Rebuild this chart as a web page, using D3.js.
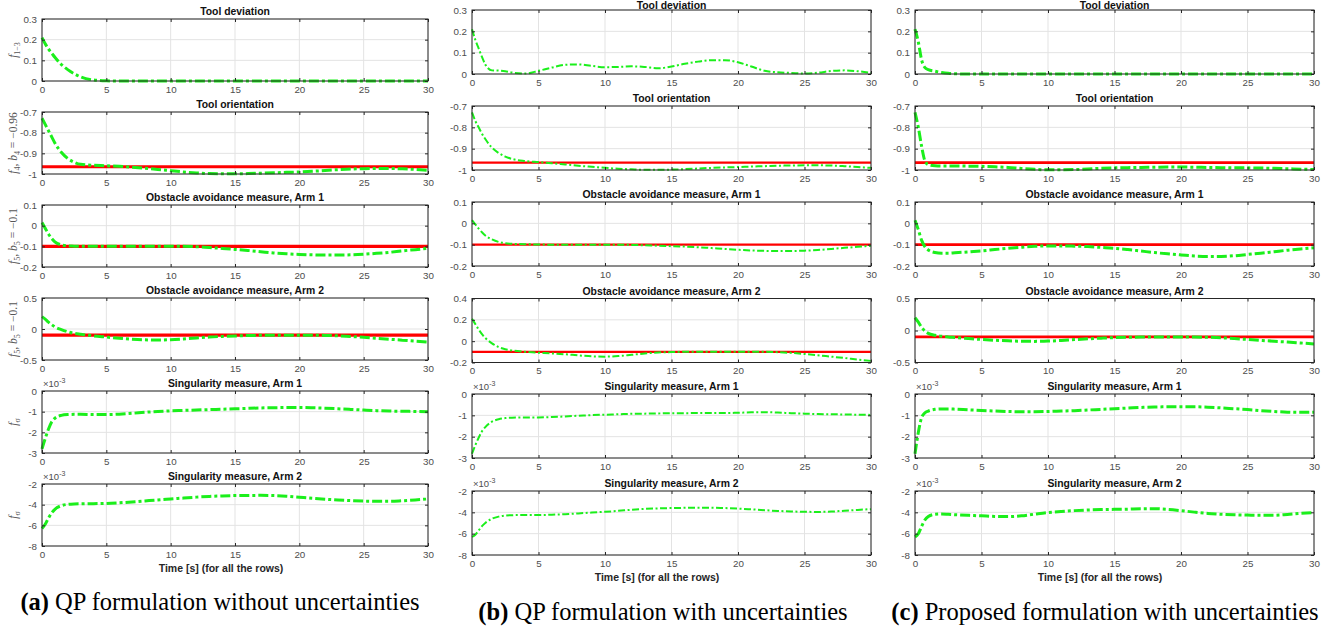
<!DOCTYPE html>
<html>
<head>
<meta charset="utf-8">
<script src="https://cdn.jsdelivr.net/npm/d3@7"></script>
<style>
  body { margin: 0; background: #fff; }
  svg { display: block; }
</style>
</head>
<body>
<div id="chart"></div>
<script>
// sample times [s], shared by every series
const time = [0, 0.25, 0.5, 0.75, 1, 1.5, 2, 2.5, 3, 4, 5, 6, 7, 8, 9, 10, 11, 12, 13, 14, 15,
  16, 17, 18, 19, 20, 21, 22, 23, 24, 25, 26, 27, 28, 29, 30];

const rowTitles = ["Tool deviation", "Tool orientation", "Obstacle avoidance measure, Arm 1",
  "Obstacle avoidance measure, Arm 2", "Singularity measure, Arm 1", "Singularity measure, Arm 2"];

const xTicks = [0, 5, 10, 15, 20, 25, 30];

// y ticks per panel and row (the first and last give the domain)
const yTicksA = [[0, 0.1, 0.2, 0.3], [-1, -0.9, -0.8, -0.7], [-0.2, -0.1, 0, 0.1], [-0.5, 0, 0.5], [-3, -2, -1, 0], [-8, -6, -4, -2]];
const yTicksB = [[0, 0.1, 0.2, 0.3], [-1, -0.9, -0.8, -0.7], [-0.2, -0.1, 0, 0.1], [-0.2, 0, 0.2, 0.4], [-3, -2, -1, 0], [-8, -6, -4, -2]];
const yTicksC = yTicksA;

// bounds (red lines) for rows 2-4
const orientationBound = -0.965;
const obstacleBound = -0.1;

// (a) QP formulation without uncertainties
const devA = [0.21, 0.18, 0.155, 0.135, 0.115, 0.08, 0.055, 0.035, 0.02, 0.005, 0.001, 0, 0, 0, 0, 0, 0, 0, 0, 0, 0,
  0, 0, 0, 0, 0, 0, 0, 0, 0, 0, 0, 0, 0, 0, 0];
const oriA = [-0.73, -0.76, -0.79, -0.82, -0.85, -0.895, -0.925, -0.943, -0.953, -0.958, -0.96, -0.963, -0.967, -0.972, -0.978, -0.984, -0.99, -0.995, -0.998, -0.999, -0.999,
  -0.998, -0.996, -0.994, -0.992, -0.99, -0.987, -0.983, -0.979, -0.976, -0.974, -0.973, -0.973, -0.975, -0.978, -0.982];
const obs1A = [0.015, -0.012, -0.04, -0.062, -0.078, -0.093, -0.098, -0.099, -0.1, -0.1, -0.1, -0.1, -0.1, -0.1, -0.1, -0.1, -0.1, -0.102, -0.106, -0.11, -0.115,
  -0.12, -0.126, -0.132, -0.136, -0.139, -0.141, -0.142, -0.142, -0.141, -0.138, -0.134, -0.129, -0.122, -0.116, -0.11];
const obs2A = [0.2, 0.16, 0.11, 0.07, 0.035, -0.01, -0.045, -0.07, -0.085, -0.11, -0.13, -0.15, -0.165, -0.175, -0.178, -0.172, -0.16, -0.145, -0.13, -0.12, -0.112,
  -0.106, -0.102, -0.1, -0.1, -0.1, -0.1, -0.103, -0.11, -0.12, -0.135, -0.15, -0.165, -0.18, -0.195, -0.21];
const sing1A = [-2.8, -2.3, -1.85, -1.5, -1.32, -1.18, -1.14, -1.13, -1.13, -1.14, -1.14, -1.12, -1.08, -1.03, -0.99, -0.96, -0.94, -0.92, -0.9, -0.88, -0.86,
  -0.84, -0.82, -0.81, -0.8, -0.8, -0.81, -0.83, -0.86, -0.89, -0.92, -0.95, -0.97, -0.98, -0.99, -1.0];
const sing2A = [-6.3, -5.9, -5.3, -4.8, -4.45, -4.1, -3.97, -3.93, -3.92, -3.9, -3.88, -3.82, -3.74, -3.64, -3.54, -3.45, -3.36, -3.27, -3.2, -3.15, -3.12,
  -3.11, -3.1, -3.12, -3.18, -3.28, -3.38, -3.47, -3.55, -3.61, -3.65, -3.68, -3.68, -3.62, -3.54, -3.45];

// (b) QP formulation with uncertainties
const devB = [0.21, 0.16, 0.12, 0.08, 0.045, 0.017, 0.016, 0.013, 0.007, 0.002, 0.015, 0.03, 0.043, 0.045, 0.038, 0.032, 0.033, 0.036, 0.033, 0.027, 0.035,
  0.048, 0.058, 0.065, 0.065, 0.055, 0.035, 0.015, 0.008, 0.005, 0.002, 0.006, 0.014, 0.017, 0.013, 0.005];
const oriB = [-0.73, -0.77, -0.8, -0.83, -0.855, -0.895, -0.92, -0.937, -0.948, -0.958, -0.963, -0.968, -0.974, -0.98, -0.985, -0.99, -0.994, -0.997, -0.999, -0.999, -0.998,
  -0.996, -0.993, -0.99, -0.988, -0.986, -0.984, -0.982, -0.98, -0.979, -0.978, -0.978, -0.979, -0.982, -0.986, -0.99];
const obs1B = [0.015, -0.005, -0.025, -0.042, -0.057, -0.075, -0.087, -0.093, -0.096, -0.098, -0.099, -0.1, -0.1, -0.1, -0.1, -0.1, -0.1, -0.101, -0.103, -0.105, -0.107,
  -0.109, -0.112, -0.116, -0.12, -0.124, -0.127, -0.129, -0.13, -0.13, -0.128, -0.125, -0.12, -0.115, -0.11, -0.105];
const obs2B = [0.21, 0.16, 0.11, 0.065, 0.03, -0.02, -0.055, -0.075, -0.087, -0.1, -0.108, -0.115, -0.123, -0.133, -0.142, -0.145, -0.14, -0.128, -0.115, -0.106, -0.102,
  -0.1, -0.1, -0.1, -0.1, -0.1, -0.1, -0.1, -0.103, -0.11, -0.12, -0.132, -0.145, -0.158, -0.172, -0.185];
const sing1B = [-2.8, -2.4, -2.05, -1.75, -1.55, -1.3, -1.18, -1.13, -1.11, -1.1, -1.1, -1.08, -1.05, -1.02, -0.99, -0.97, -0.95, -0.93, -0.92, -0.91, -0.9,
  -0.9, -0.89, -0.89, -0.89, -0.88, -0.86, -0.85, -0.87, -0.9, -0.92, -0.94, -0.95, -0.96, -0.97, -0.98];
const sing2B = [-6.3, -6.1, -5.7, -5.3, -5.0, -4.6, -4.4, -4.3, -4.27, -4.25, -4.25, -4.22, -4.17, -4.1, -4.02, -3.95, -3.86, -3.76, -3.68, -3.63, -3.6,
  -3.58, -3.56, -3.56, -3.6, -3.65, -3.72, -3.8, -3.87, -3.92, -3.95, -3.96, -3.93, -3.85, -3.77, -3.7];

// (c) Proposed formulation with uncertainties
const devC = [0.21, 0.15, 0.065, 0.03, 0.02, 0.013, 0.007, 0.003, 0.001, 0, 0, 0, 0, 0, 0, 0, 0, 0, 0, 0, 0,
  0, 0, 0, 0, 0, 0, 0, 0, 0, 0, 0, 0, 0, 0, 0];
const oriC = [-0.73, -0.8, -0.89, -0.958, -0.975, -0.98, -0.981, -0.981, -0.981, -0.982, -0.983, -0.985, -0.988, -0.993, -0.997, -0.999, -0.999, -0.998, -0.995, -0.992, -0.99,
  -0.989, -0.988, -0.987, -0.986, -0.986, -0.987, -0.988, -0.989, -0.99, -0.99, -0.991, -0.992, -0.994, -0.996, -0.998];
const obs1C = [0.015, -0.03, -0.08, -0.11, -0.125, -0.137, -0.14, -0.14, -0.138, -0.134, -0.129, -0.123, -0.117, -0.112, -0.108, -0.106, -0.106, -0.107, -0.109, -0.113, -0.117,
  -0.123, -0.13, -0.137, -0.143, -0.148, -0.153, -0.155, -0.155, -0.152, -0.146, -0.14, -0.133, -0.126, -0.12, -0.115];
const obs2C = [0.2, 0.13, 0.05, -0.01, -0.045, -0.075, -0.09, -0.1, -0.108, -0.125, -0.14, -0.152, -0.162, -0.168, -0.17, -0.166, -0.155, -0.142, -0.13, -0.12, -0.112,
  -0.106, -0.102, -0.1, -0.1, -0.1, -0.102, -0.106, -0.113, -0.125, -0.14, -0.155, -0.168, -0.18, -0.195, -0.21];
const sing1C = [-2.8, -1.8, -1.1, -0.88, -0.8, -0.72, -0.7, -0.7, -0.71, -0.74, -0.77, -0.8, -0.82, -0.83, -0.83, -0.82, -0.8, -0.78, -0.75, -0.72, -0.69,
  -0.66, -0.63, -0.61, -0.6, -0.6, -0.6, -0.62, -0.65, -0.69, -0.73, -0.78, -0.82, -0.85, -0.86, -0.85];
const sing2C = [-6.3, -6.0, -5.3, -4.7, -4.4, -4.18, -4.15, -4.18, -4.22, -4.28, -4.33, -4.38, -4.4, -4.33, -4.17, -4.02, -3.92, -3.84, -3.78, -3.74, -3.72,
  -3.7, -3.66, -3.66, -3.72, -3.84, -3.98, -4.1, -4.18, -4.23, -4.26, -4.27, -4.27, -4.2, -4.1, -4.03];

const seriesA = [devA, oriA, obs1A, obs2A, sing1A, sing2A];
const seriesB = [devB, oriB, obs1B, obs2B, sing1B, sing2B];
const seriesC = [devC, oriC, obs1C, obs2C, sing1C, sing2C];
const rowBounds = [null, orientationBound, obstacleBound, obstacleBound, null, null];

const yLabels = [
  [["f", "i"], ["1\u22123", "sub"]],
  [["f", "i"], ["4", "sub"], [", ", ""], ["b", "i"], ["4", "sub"], [" = \u22120.96", ""]],
  [["f", "i"], ["5", "sub"], [", ", ""], ["b", "i"], ["5", "sub"], [" = \u22120.1", ""]],
  [["f", "i"], ["5", "sub"], [", ", ""], ["b", "i"], ["5", "sub"], [" = \u22120.1", ""]],
  [["f", "i"], ["\u03c3", "sub"]],
  [["f", "i"], ["\u03c3", "sub"]]
];

const panels = [
  { series: seriesA, yTicks: yTicksA, x0: 42, x1: 428, tops: [19, 112, 205, 298, 391, 484], h: 62,
    lw: 3, dash: "10,3,3,3", redW: 3.2, timeX: 221, timeY: 572, capX: 220, capY: 610,
    capTag: "(a)", capText: " QP formulation without uncertainties", labels: true },
  { series: seriesB, yTicks: yTicksB, x0: 472, x1: 871, tops: [10, 106, 202, 298.5, 394, 491], h: 64,
    lw: 2, dash: "7,2.5,2,2.5", redW: 2.2, timeX: 657, timeY: 581, capX: 663, capY: 620,
    capTag: "(b)", capText: " QP formulation with uncertainties", labels: false },
  { series: seriesC, yTicks: yTicksC, x0: 915, x1: 1314, tops: [10, 106, 202, 298.5, 394, 491], h: 64,
    lw: 3, dash: "10,3,3,3", redW: 2.8, timeX: 1100, timeY: 581, capX: 1105, capY: 620,
    capTag: "(c)", capText: " Proposed formulation with uncertainties", labels: false }
];

const svg = d3.select("#chart").append("svg")
  .attr("width", 1336)
  .attr("height", 627)
  .style("font-family", "'Liberation Sans', Arial, sans-serif");

const fmt = d => String(+d.toFixed(2));

panels.forEach(p => {
  const x = d3.scaleLinear().domain([0, 30]).range([p.x0, p.x1]);

  p.series.forEach((values, r) => {
    const top = p.tops[r], bottom = top + p.h;
    const ticks = p.yTicks[r];
    const y = d3.scaleLinear().domain([ticks[0], ticks[ticks.length - 1]]).range([bottom, top]);
    const g = svg.append("g");

    // grid
    g.append("g")
      .selectAll("line.gx").data(xTicks).enter().append("line")
      .attr("x1", d => x(d)).attr("x2", d => x(d))
      .attr("y1", top).attr("y2", bottom)
      .attr("stroke", "#e3e3e3").attr("stroke-width", 1);
    g.append("g")
      .selectAll("line.gy").data(ticks).enter().append("line")
      .attr("x1", p.x0).attr("x2", p.x1)
      .attr("y1", d => y(d)).attr("y2", d => y(d))
      .attr("stroke", "#e3e3e3").attr("stroke-width", 1);

    // bound
    if (rowBounds[r] !== null) {
      g.append("line")
        .attr("x1", x(0)).attr("x2", x(30))
        .attr("y1", y(rowBounds[r])).attr("y2", y(rowBounds[r]))
        .attr("stroke", "#ff0000").attr("stroke-width", p.redW);
    }

    // measured series
    const line = d3.line()
      .x((d, i) => x(time[i]))
      .y(d => y(d))
      .curve(d3.curveMonotoneX);
    g.append("path")
      .datum(values)
      .attr("d", line)
      .attr("fill", "none")
      .attr("stroke", "#1bef1b")
      .attr("stroke-width", p.lw)
      .attr("stroke-dasharray", p.dash);

    // axes, ticks inside like matlab
    const axisStyle = sel => {
      sel.select(".domain").remove();
      sel.selectAll("line").attr("stroke", "#262626");
      sel.selectAll("text").attr("fill", "#4d4d4d").style("font-size", "9.8px");
    };
    g.append("g").attr("transform", `translate(0,${bottom})`)
      .call(d3.axisBottom(x).tickValues(xTicks).tickSizeInner(-3).tickSizeOuter(0).tickPadding(5).tickFormat(fmt))
      .call(axisStyle);
    g.append("g").attr("transform", `translate(0,${top})`)
      .call(d3.axisTop(x).tickValues(xTicks).tickSizeInner(-3).tickSizeOuter(0).tickFormat(""))
      .call(axisStyle);
    g.append("g").attr("transform", `translate(${p.x0},0)`)
      .call(d3.axisLeft(y).tickValues(ticks).tickSizeInner(-3).tickSizeOuter(0).tickPadding(5).tickFormat(fmt))
      .call(axisStyle);
    g.append("g").attr("transform", `translate(${p.x1},0)`)
      .call(d3.axisRight(y).tickValues(ticks).tickSizeInner(-3).tickSizeOuter(0).tickFormat(""))
      .call(axisStyle);

    g.append("rect")
      .attr("x", p.x0).attr("y", top)
      .attr("width", p.x1 - p.x0).attr("height", p.h)
      .attr("fill", "none").attr("stroke", "#262626").attr("stroke-width", 1);

    // title
    g.append("text")
      .attr("x", (p.x0 + p.x1) / 2).attr("y", Math.max(top - 4, 9))
      .attr("text-anchor", "middle")
      .style("font-size", "10.4px").style("font-weight", "bold")
      .attr("fill", "#111")
      .text(rowTitles[r]);

    // exponent for singularity rows
    if (r >= 4) {
      const ex = g.append("text")
        .attr("x", p.x0 + 1).attr("y", top - 4)
        .attr("fill", "#4d4d4d").style("font-size", "9.5px");
      ex.append("tspan").text("\u00d710");
      ex.append("tspan").attr("dy", -4).style("font-size", "7px").text("-3");
    }

    // y labels only on the first panel
    if (p.labels) {
      const lt = g.append("text")
        .attr("transform", `translate(17,${(top + bottom) / 2}) rotate(-90)`)
        .attr("text-anchor", "middle")
        .attr("fill", "#555")
        .style("font-family", "'Liberation Serif', 'DejaVu Serif', serif")
        .style("font-size", "11.5px");
      let shifted = false;
      yLabels[r].forEach(([txt, kind]) => {
        const ts = lt.append("tspan").text(txt);
        if (kind === "i") ts.style("font-style", "italic");
        if (kind === "sub") {
          ts.attr("dy", 2.5).style("font-size", "8px");
          shifted = true;
        } else if (shifted) {
          ts.attr("dy", -2.5);
          shifted = false;
        }
      });
    }
  });

  svg.append("text")
    .attr("x", p.timeX).attr("y", p.timeY)
    .attr("text-anchor", "middle")
    .style("font-size", "10.5px").style("font-weight", "bold")
    .attr("fill", "#262626")
    .text("Time [s] (for all the rows)");

  const cap = svg.append("text")
    .attr("x", p.capX).attr("y", p.capY)
    .attr("text-anchor", "middle")
    .style("font-family", "'Liberation Serif', 'Times New Roman', serif")
    .style("font-size", "24.5px")
    .attr("fill", "#000");
  cap.append("tspan").style("font-weight", "bold").text(p.capTag);
  cap.append("tspan").text(p.capText);
});
</script>
</body>
</html>
